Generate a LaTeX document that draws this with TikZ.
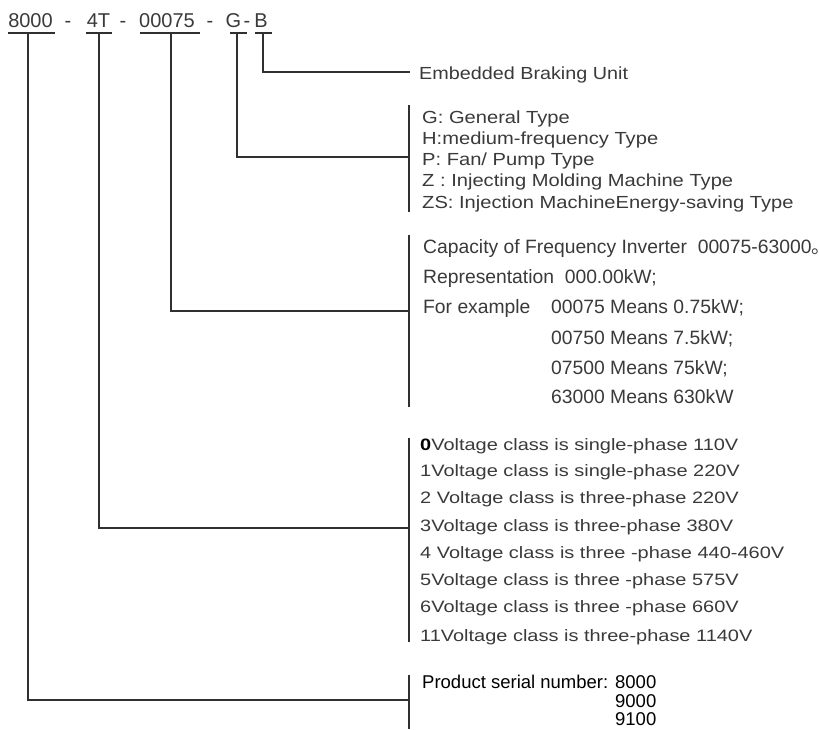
\documentclass[tikz,border=0pt]{standalone}
\usepackage{fontspec}
\usepackage{graphicx}
\setmainfont{Liberation Sans}
\newfontfamily\cjk{Noto Sans CJK SC}
\definecolor{txt}{HTML}{3A3A3A}
\definecolor{lnc}{HTML}{303030}
\newcommand\hs[2]{\scalebox{#1}[1]{#2}}
\begin{document}
\begin{tikzpicture}[x=1pt,y=-1pt,
  ln/.style={draw=lnc,line width=1.3pt},
  hdr/.style={anchor=base,inner sep=0pt,text=txt,font=\fontsize{20}{20}\selectfont},
  lblA/.style={anchor=west,inner sep=0pt,text=txt,font=\fontsize{17.5}{21}\selectfont,text height=12.5pt,text depth=0pt},
  lblC/.style={anchor=west,inner sep=0pt,text=txt,font=\fontsize{19.3}{21}\selectfont,text height=14pt,text depth=0pt},
  lblV/.style={anchor=west,inner sep=0pt,text=txt,font=\fontsize{16.5}{21}\selectfont,text height=11.8pt,text depth=0pt},
  lblP/.style={anchor=west,inner sep=0pt,text=black,font=\fontsize{18.5}{18}\selectfont,text height=13.3pt,text depth=0pt}]
\useasboundingbox (0,0) rectangle (819,729);
\fill[white] (0,0) rectangle (819,729);

% header code
\node[hdr] (c8000) at (30.5,27) {8000};
\node[hdr] (d1) at (68,27) {-};
\node[hdr] (c4T) at (98.5,27) {4T};
\node[hdr] (d2) at (123,27) {-};
\node[hdr] (c00075) at (167,27) {00075};
\node[hdr] (d3) at (210,27) {-};
\node[hdr] (cG) at (233.5,27) {G};
\node[hdr] (d4) at (247,27) {-};
\node[hdr] (cB) at (261,27) {B};

% underlines
\draw[ln] (8,33) -- (55,33);
\draw[ln] (86,33) -- (112,33);
\draw[ln] (140,33) -- (200,33);
\draw[ln] (230,33) -- (247,33);
\draw[ln] (255,33) -- (272,33);

% connector origins
\coordinate (u8000) at (28,33);
\coordinate (u4T) at (99,33);
\coordinate (u00075) at (171,33);
\coordinate (uG) at (237,33);
\coordinate (uB) at (263,33);

% junctions on brackets
\coordinate (jB) at (410,72);
\coordinate (jG) at (409,157);
\coordinate (jC) at (409,311);
\coordinate (jV) at (409,528);
\coordinate (jP) at (409,700);

% brackets
\draw[ln] (409,105) -- (409,212);
\draw[ln] (409,235) -- (409,407);
\draw[ln] (409,438) -- (409,642);
\draw[ln] (409,675) -- (409,729);

% connectors
\draw[ln] (uB) |- (jB);
\draw[ln] (uG) |- (jG);
\draw[ln] (u00075) |- (jC);
\draw[ln] (u4T) |- (jV);
\draw[ln] (u8000) |- (jP);

% texts
\node[lblA] (tB) at (419,73) {\hs{1.13}{Embedded Braking Unit}};

\node[lblA] (g1) at (422,117) {\hs{1.15}{G: General Type}};
\node[lblA] (g2) at (422,138) {\hs{1.15}{H:medium-frequency Type}};
\node[lblA] (g3) at (422,159) {\hs{1.15}{P: Fan/ Pump Type}};
\node[lblA] (g4) at (422,180) {\hs{1.15}{Z : Injecting Molding Machine Type}};
\node[lblA] (g5) at (422,202) {\hs{1.15}{ZS: Injection MachineEnergy-saving Type}};

\node[lblC] (k1) at (423,246) {Capacity of Frequency Inverter\ \ 00075-63000\rlap{\cjk 。}};
\node[lblC] (k2) at (423,276) {Representation\ \ 000.00kW;};
\node[lblC] (k3) at (423,306) {For example};
\node[lblC] (k4) at (551,306) {00075 Means 0.75kW;};
\node[lblC] (k5) at (551,337) {00750 Means 7.5kW;};
\node[lblC] (k6) at (551,367) {07500 Means 75kW;};
\node[lblC] (k7) at (551,396) {63000 Means 630kW};

\node[lblV] (v0) at (420,445) {\hs{1.21}{\textcolor{black}{\bfseries 0}Voltage class is single-phase 110V}};
\node[lblV] (v1) at (420,471) {\hs{1.21}{1Voltage class is single-phase 220V}};
\node[lblV] (v2) at (420,498) {\hs{1.21}{2 Voltage class is three-phase 220V}};
\node[lblV] (v3) at (420,526) {\hs{1.21}{3Voltage class is three-phase 380V}};
\node[lblV] (v4) at (420,553) {\hs{1.21}{4 Voltage class is three -phase 440-460V}};
\node[lblV] (v5) at (420,580) {\hs{1.21}{5Voltage class is three -phase 575V}};
\node[lblV] (v6) at (420,607) {\hs{1.21}{6Voltage class is three -phase 660V}};
\node[lblV] (v7) at (420,636) {\hs{1.21}{11Voltage class is three-phase 1140V}};

\node[lblP] (p1) at (422,682) {Product serial number: 8000};
\node[lblP,anchor=east] (p2) at (p1.east |- 0,701) {9000};
\node[lblP,anchor=east] (p3) at (p1.east |- 0,719) {9100};
\end{tikzpicture}
\end{document}
